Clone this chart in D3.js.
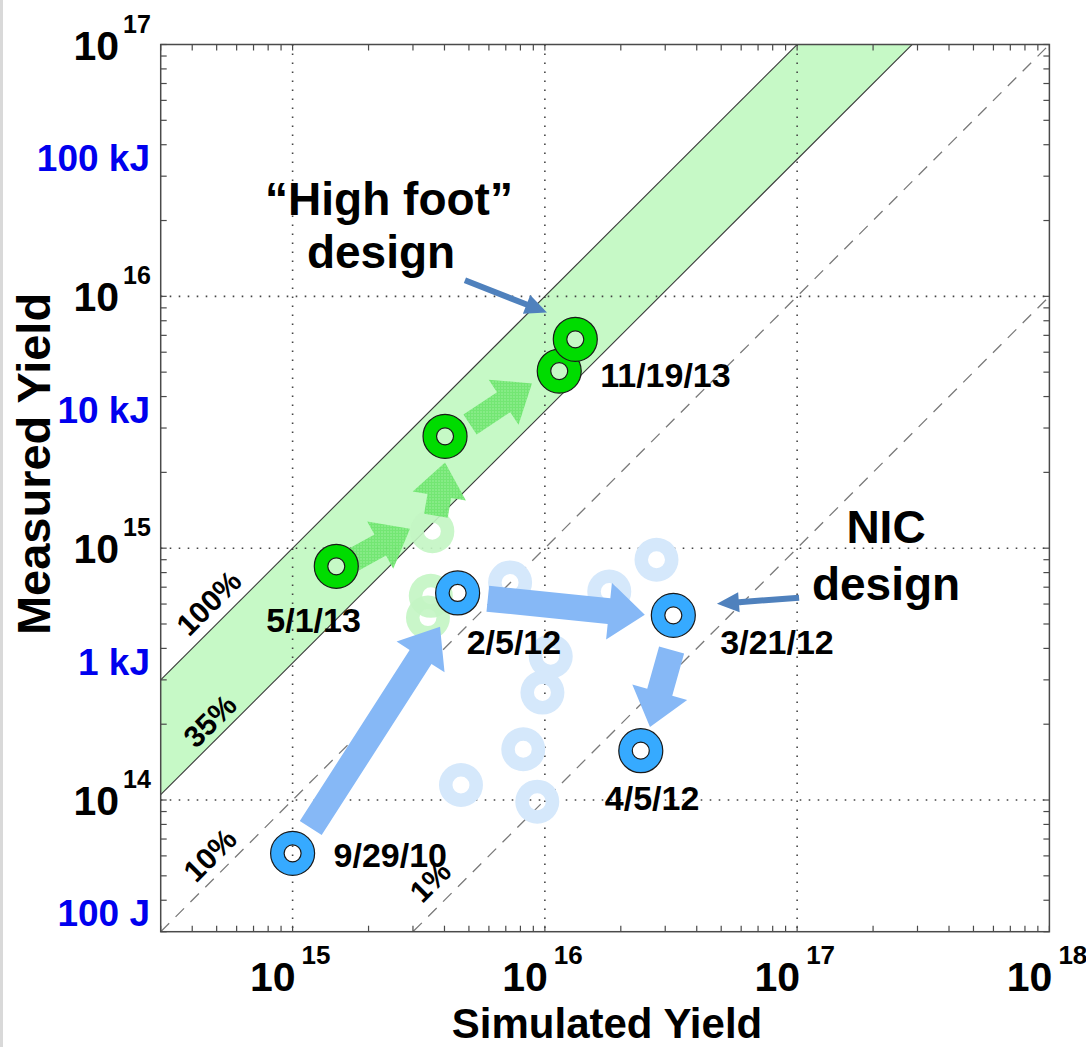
<!DOCTYPE html>
<html>
<head>
<meta charset="utf-8">
<script src="https://cdn.jsdelivr.net/npm/d3@7"></script>
<style>
  html, body { margin: 0; padding: 0; background: #fff; }
  svg text { font-family: "Liberation Sans", Arial, sans-serif; font-weight: bold; }
</style>
</head>
<body>
<svg id="chart" width="1086" height="1047"></svg>
<script>
// ---- data (neutron yields) ----
const xDomain = [3e14, 1e18];          // simulated yield
const yDomain = [3e13, 1e17];          // measured yield
const xTickExps = [15, 16, 17, 18];
const yTickExps = [14, 15, 16, 17];

// measured / simulated ratio lines
const ratioValues = [1.0, 0.35, 0.10, 0.01];
const ratioLabels = ["100%", "35%", "10%", "1%"];
const ratioLabelX = [5.31e14, 5.26e14, 5.33e14, 4.08e15];
const ratioLabelLift = [10, 7, 9, 13];

// energy equivalents (17.6 MeV per D-T reaction)
const energyLabels = ["100 J", "1 kJ", "10 kJ", "100 kJ"];
const energyJoules = [100, 1e3, 1e4, 1e5];
const joulesPerNeutron = 17.6 * 1.602e-13;

// NIC (low foot) campaign highlighted shots
const nicDates = ["9/29/10", "2/5/12", "3/21/12", "4/5/12"];
const nicSim   = [1.00e15, 4.51e15, 3.23e16, 2.40e16];
const nicMeas  = [6.14e13, 6.64e14, 5.41e14, 1.57e14];

// High foot campaign highlighted shots
const hfDates = ["5/1/13", "", "11/19/13", ""];
const hfSim   = [1.49e15, 4.02e15, 1.14e16, 1.32e16];
const hfMeas  = [8.47e14, 2.78e15, 5.05e15, 6.75e15];

// other shots (faded)
const nicOtherSim  = [7.28e15, 2.77e16, 1.80e16, 1.055e16, 9.78e15, 8.21e15, 4.65e15, 9.33e15];
const nicOtherMeas = [7.31e14, 9.0e14, 6.73e14, 3.72e14, 2.67e14, 1.59e14, 1.147e14, 9.85e13];
const hfOtherSim   = [3.58e15, 3.53e15, 3.44e15];
const hfOtherMeas  = [1.167e15, 6.47e14, 5.30e14];

// progress arrows: [tailSim, tailMeas, tipSim, tipMeas]
const nicSteps = [
  [1.18e15, 7.74e13, 3.84e15, 4.88e14],
  [5.94e15, 6.30e14, 2.49e16, 5.44e14],
  [3.18e16, 3.94e14, 2.61e16, 1.95e14]
];
const hfSteps = [
  [1.687e15, 8.83e14, 2.92e15, 1.195e15],
  [3.70e15, 1.346e15, 4.02e15, 2.19e15],
  [5.05e15, 3.10e15, 8.89e15, 4.51e15]
];
// callout arrows: [tailSim, tailMeas, tipSim, tipMeas]
const callouts = [
  [4.82e15, 1.158e16, 1.02e16, 8.63e15],
  [1.018e17, 6.36e14, 4.81e16, 6.01e14]
];

// ---- layout ----
const svg = d3.select("#chart");
const x = d3.scaleLog().domain(xDomain).range([160.7, 1049.4]);
const y = d3.scaleLog().domain(yDomain).range([931.7, 44.5]);
const [x0, x1] = x.range();
const [y1, y0] = [y.range()[1], y.range()[0]];

// light strip at left page edge
svg.append("rect").attr("x", 0).attr("y", 0).attr("width", 3).attr("height", 1047).attr("fill", "#d9d9d9");

const defs = svg.append("defs");
defs.append("clipPath").attr("id", "plotClip")
  .append("rect").attr("x", x0).attr("y", y1).attr("width", x1 - x0).attr("height", y0 - y1);

// dotted texture for the high-foot progress arrows
const pat = defs.append("pattern").attr("id", "hfTexture")
  .attr("patternUnits", "userSpaceOnUse").attr("width", 3).attr("height", 3);
pat.append("rect").attr("width", 3).attr("height", 3).attr("fill", "#6fe56f");
pat.append("circle").attr("cx", 1).attr("cy", 1).attr("r", 0.7).attr("fill", "#a6f3a6");

const plot = svg.append("g").attr("clip-path", "url(#plotClip)");

// green band between the 35% and 100% lines
const bandXs = d3.range(0, 101).map(i => xDomain[0] * Math.pow(xDomain[1] / xDomain[0], i / 100));
const band = d3.area()
  .x(d => x(d))
  .y0(d => y(d * ratioValues[1]))
  .y1(d => y(d * ratioValues[0]));
plot.append("path").datum(bandXs).attr("d", band).attr("fill", "#c6f9c6");

// grid at decades
const xMajors = [1e15, 1e16, 1e17];
const yMajors = [1e14, 1e15, 1e16];
plot.selectAll(".vgrid").data(xMajors).join("line")
  .attr("x1", d => x(d)).attr("x2", d => x(d)).attr("y1", y1).attr("y2", y0)
  .attr("stroke", "#444").attr("stroke-width", 1.6).attr("stroke-dasharray", "1.6,7.4");
plot.selectAll(".hgrid").data(yMajors).join("line")
  .attr("x1", x0).attr("x2", x1).attr("y1", d => y(d)).attr("y2", d => y(d))
  .attr("stroke", "#444").attr("stroke-width", 1.6).attr("stroke-dasharray", "1.6,7.4");

// ratio lines
const ratioLine = r => d3.line().x(d => x(d)).y(d => y(d * r));
ratioValues.forEach((r, i) => {
  const solid = i < 2;
  plot.append("path").datum([xDomain[0], xDomain[1]]).attr("d", ratioLine(r))
    .attr("fill", "none")
    .attr("stroke", solid ? "#3a3a3a" : "#7a7a7a")
    .attr("stroke-width", solid ? 1.1 : 1.3)
    .attr("stroke-dasharray", solid ? null : "12,9");
});

// ratio labels rotated along their lines
const lineAngle = Math.atan2(y(1e15) - y(1e16), x(1e16) - x(1e15)) * 180 / Math.PI;
ratioLabels.forEach((t, i) => {
  const px = x(ratioLabelX[i]), py = y(ratioLabelX[i] * ratioValues[i]);
  plot.append("text")
    .attr("transform", `translate(${px},${py}) rotate(${-lineAngle})`)
    .attr("y", -ratioLabelLift[i])
    .attr("text-anchor", "middle").attr("font-size", 30).attr("fill", "#000")
    .text(t);
});

// ring marker path
const ringPath = (cx, cy, R, r) =>
  `M${cx - R},${cy}a${R},${R} 0 1,0 ${2 * R},0a${R},${R} 0 1,0 ${-2 * R},0Z` +
  `M${cx - r},${cy}a${r},${r} 0 1,1 ${2 * r},0a${r},${r} 0 1,1 ${-2 * r},0Z`;
const R_OUT = 22, R_IN = 8.5;

// faded shots
hfOtherSim.forEach((s, i) => {
  plot.append("path").attr("d", ringPath(x(s), y(hfOtherMeas[i]), R_OUT, R_IN))
    .attr("fill", "#c3f5c3").attr("fill-rule", "evenodd").attr("opacity", 0.9);
});
nicOtherSim.forEach((s, i) => {
  plot.append("path").attr("d", ringPath(x(s), y(nicOtherMeas[i]), R_OUT, R_IN))
    .attr("fill", "#d5e8fb").attr("fill-rule", "evenodd");
});

// block arrow polygon
function blockArrow(tx, ty, px, py, w, hw, hl) {
  const L = Math.hypot(px - tx, py - ty);
  const ux = (px - tx) / L, uy = (py - ty) / L;
  const nx = -uy, ny = ux;
  const bx = px - ux * hl, by = py - uy * hl;
  const pts = [
    [tx + nx * w, ty + ny * w], [bx + nx * w, by + ny * w], [bx + nx * hw, by + ny * hw],
    [px, py],
    [bx - nx * hw, by - ny * hw], [bx - nx * w, by - ny * w], [tx - nx * w, ty - ny * w]
  ];
  return "M" + pts.map(p => p.join(",")).join("L") + "Z";
}

hfSteps.forEach(s => {
  plot.append("path").attr("d", blockArrow(x(s[0]), y(s[1]), x(s[2]), y(s[3]), 12, 27, 34))
    .attr("fill", "url(#hfTexture)").attr("opacity", 0.95);
});
nicSteps.forEach(s => {
  plot.append("path").attr("d", blockArrow(x(s[0]), y(s[1]), x(s[2]), y(s[3]), 13, 28.5, 36))
    .attr("fill", "#86b8f6");
});

// highlighted shots
hfSim.forEach((s, i) => {
  plot.append("path").attr("d", ringPath(x(s), y(hfMeas[i]), R_OUT, R_IN))
    .attr("fill", "#00dc00").attr("fill-rule", "evenodd")
    .attr("stroke", "#1a1a1a").attr("stroke-width", 1.2);
});
nicSim.forEach((s, i) => {
  plot.append("path").attr("d", ringPath(x(s), y(nicMeas[i]), R_OUT, R_IN))
    .attr("fill", "#36aaff").attr("fill-rule", "evenodd")
    .attr("stroke", "#1a1a1a").attr("stroke-width", 1.2);
});

// frame
svg.append("rect").attr("x", x0).attr("y", y1).attr("width", x1 - x0).attr("height", y0 - y1)
  .attr("fill", "none").attr("stroke", "#4a4a4a").attr("stroke-width", 1.5);

// log minor/major ticks, inward on all four sides
function logTicks(domain) {
  const out = [];
  const lo = Math.floor(Math.log10(domain[0])), hi = Math.ceil(Math.log10(domain[1]));
  for (let e = lo; e <= hi; e++) for (let m = 1; m <= 9; m++) {
    const v = m * Math.pow(10, e);
    if (v >= domain[0] * 0.999 && v <= domain[1] * 1.001) out.push(v);
  }
  return out;
}
const tickLen = 6;
const tk = svg.append("g").attr("stroke", "#4a4a4a").attr("stroke-width", 1.2);
logTicks(xDomain).forEach(v => {
  const px = x(v);
  tk.append("line").attr("x1", px).attr("x2", px).attr("y1", y0).attr("y2", y0 - tickLen);
  tk.append("line").attr("x1", px).attr("x2", px).attr("y1", y1).attr("y2", y1 + tickLen);
});
logTicks(yDomain).forEach(v => {
  const py = y(v);
  tk.append("line").attr("x1", x0).attr("x2", x0 + tickLen).attr("y1", py).attr("y2", py);
  tk.append("line").attr("x1", x1).attr("x2", x1 - tickLen).attr("y1", py).attr("y2", py);
});

// power-of-ten tick labels
xTickExps.forEach(e => {
  const px = x(Math.pow(10, e));
  svg.append("text").attr("x", px + 3).attr("y", 991).attr("text-anchor", "end")
    .attr("font-size", 41).text("10");
  svg.append("text").attr("x", px + 9).attr("y", 964).attr("text-anchor", "start")
    .attr("font-size", 26).text(String(e));
});
yTickExps.forEach(e => {
  const py = y(Math.pow(10, e));
  svg.append("text").attr("x", 119).attr("y", py + 15).attr("text-anchor", "end")
    .attr("font-size", 41).text("10");
  svg.append("text").attr("x", 123).attr("y", py - 12).attr("text-anchor", "start")
    .attr("font-size", 25).text(String(e));
});

// energy labels in blue
energyLabels.forEach((t, i) => {
  svg.append("text").attr("x", 150).attr("y", y(energyJoules[i] / joulesPerNeutron) + 13)
    .attr("text-anchor", "end").attr("font-size", 37).attr("fill", "#0000ee").text(t);
});

// axis titles
svg.append("text").attr("x", 607).attr("y", 1038).attr("text-anchor", "middle")
  .attr("font-size", 42).text("Simulated Yield");
svg.append("text").attr("transform", "translate(50,464) rotate(-90)")
  .attr("text-anchor", "middle").attr("font-size", 47).text("Measured Yield");

// shot date labels (offsets from marker centre)
const nicLabelOffsets = [[41, 14], [9, 61], [47, 39], [-36, 59]];
const hfLabelOffsets = [[-70, 66], [0, 0], [41, 16], [0, 0]];
nicDates.forEach((t, i) => {
  svg.append("text").attr("x", x(nicSim[i]) + nicLabelOffsets[i][0])
    .attr("y", y(nicMeas[i]) + nicLabelOffsets[i][1]).attr("font-size", 34).text(t);
});
hfDates.forEach((t, i) => {
  if (!t) return;
  svg.append("text").attr("x", x(hfSim[i]) + hfLabelOffsets[i][0])
    .attr("y", y(hfMeas[i]) + hfLabelOffsets[i][1]).attr("font-size", 34).text(t);
});

// callout arrows
callouts.forEach(c => {
  svg.append("path").attr("d", blockArrow(x(c[0]), y(c[1]), x(c[2]), y(c[3]), 3, 10, 22))
    .attr("fill", "#4f81bd");
});

// design annotations
svg.append("text").attr("x", 389).attr("y", 215).attr("text-anchor", "middle")
  .attr("font-size", 46).text("\u201CHigh foot\u201D");
svg.append("text").attr("x", 381).attr("y", 268).attr("text-anchor", "middle")
  .attr("font-size", 46).text("design");
svg.append("text").attr("x", 886).attr("y", 543).attr("text-anchor", "middle")
  .attr("font-size", 46).text("NIC");
svg.append("text").attr("x", 886).attr("y", 600).attr("text-anchor", "middle")
  .attr("font-size", 46).text("design");
</script>
</body>
</html>
